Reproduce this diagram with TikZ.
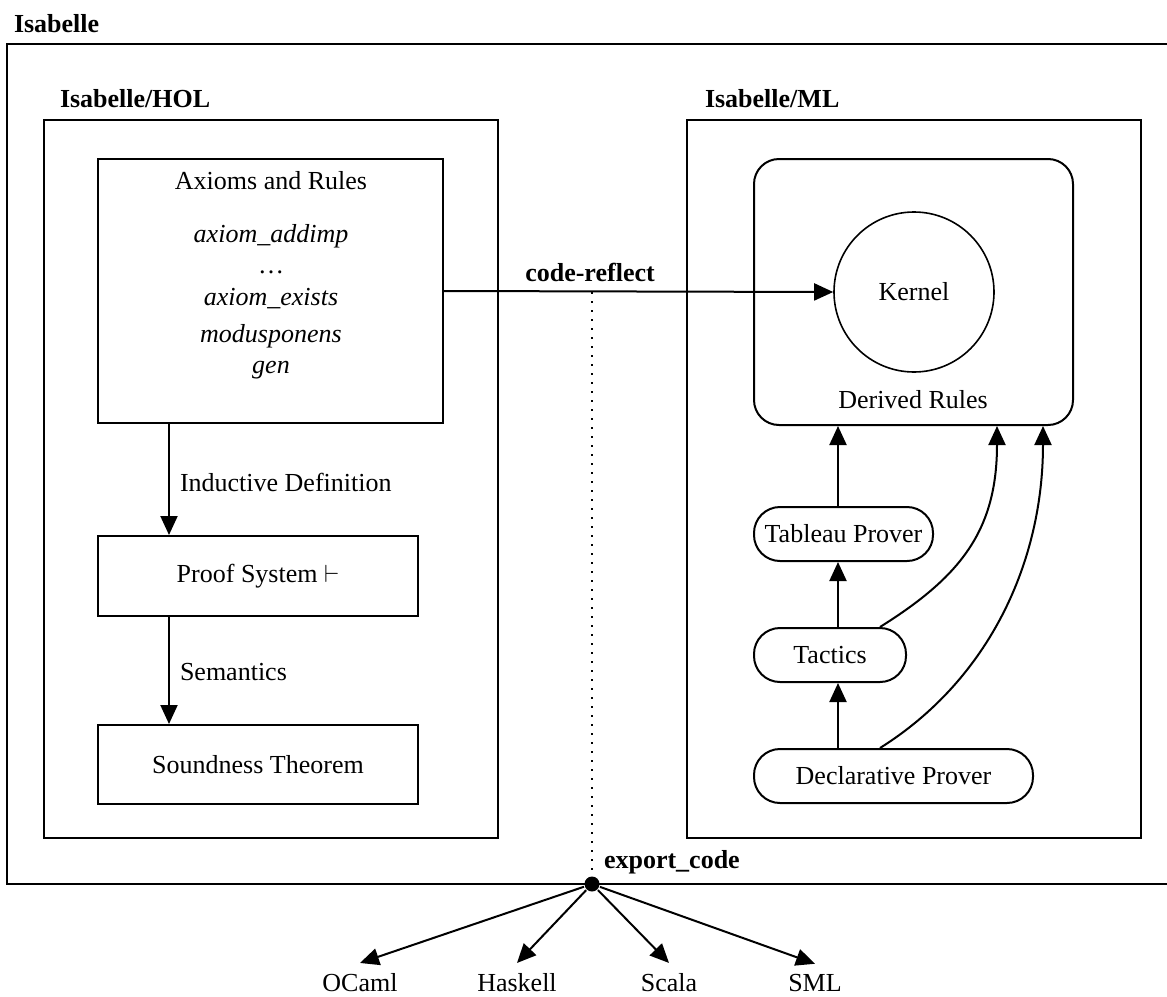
\documentclass[tikz,border=0pt]{standalone}
\usepackage{fontspec}
\setmainfont{Liberation Serif}
\usetikzlibrary{arrows.meta}
\begin{document}
\begin{tikzpicture}[x=1pt,y=-1pt,line width=2pt,
  every node/.style={font=\fontsize{26}{31}\selectfont},
  box/.style={draw,rectangle,inner sep=0},
  pill/.style={draw,rectangle,rounded corners=26pt,inner sep=0,minimum height=54pt},
  arr/.style={-{Triangle[length=19pt,width=17pt]}},
  ttl/.style={font=\fontsize{26}{31}\selectfont\bfseries,anchor=base west,inner sep=0},
  txt/.style={anchor=base,inner sep=0},
  lang/.style={anchor=base,inner xsep=0,inner ysep=9pt}]
\useasboundingbox (0,0) rectangle (1167,996);

% containers
\node[box,minimum width=1168.5pt,minimum height=840pt] (isabelle) at (590.75,464) {};
\node[ttl] (isabelleL) at (13,32) {Isabelle};
\node[box,minimum width=454pt,minimum height=718pt] (hol) at (271,479) {};
\node[ttl] (holL) at (59,107) {Isabelle/HOL};
\node[box,minimum width=454pt,minimum height=718pt] (ml) at (914,479) {};
\node[ttl] (mlL) at (704,107) {Isabelle/ML};

% HOL side
\node[box,minimum width=345pt,minimum height=264pt] (axioms) at (270.5,291) {};
\node[txt] (t1) at (271,189) {Axioms and Rules};
\node[txt] (t2) at (271,242) {\textit{axiom\_addimp}};
\node[txt] (t3) at (271,273) {\ldots};
\node[txt] (t4) at (271,305) {\textit{axiom\_exists}};
\node[txt] (t5) at (271,342) {\textit{modusponens}};
\node[txt] (t6) at (271,373) {\textit{gen}};

\node[box,minimum width=320pt,minimum height=80pt] (proof) at (258,576) {Proof System $\vdash$};
\node[box,minimum width=320pt,minimum height=79pt] (sound) at (258,764.5) {Soundness Theorem};

\draw[arr] ([xshift=-101.5pt]axioms.south) -- ([xshift=-89pt]proof.north);
\node[anchor=base west,inner sep=0] (indL) at (179,491) {Inductive Definition};
\draw[arr] ([xshift=-89pt]proof.south) -- ([xshift=-89pt]sound.north);
\node[anchor=base west,inner sep=0] (semL) at (179,680) {Semantics};

% ML side
\node[draw,rectangle,rounded corners=25pt,inner sep=0,minimum width=319pt,minimum height=266pt] (derived) at (913.5,292) {};
\node[draw,circle,inner sep=0,minimum size=160pt,line width=1.6pt] (kernel) at (914,292) {Kernel};
\node[txt] (derL) at (913,408) {Derived Rules};

\node[pill,minimum width=179pt] (tableau) at (843.5,534) {Tableau Prover};
\node[pill,minimum width=152pt] (tactics) at (830,655) {Tactics};
\node[pill,minimum width=279pt] (decl) at (893.5,776) {Declarative Prover};

\draw[arr] ([xshift=-5.5pt]tableau.north) -- ([xshift=-75.5pt]derived.south);
\draw[arr] ([xshift=8pt]tactics.north) -- ([xshift=-5.5pt]tableau.south);
\draw[arr] ([xshift=-55.5pt]decl.north) -- ([xshift=8pt]tactics.south);
\draw[arr] ([xshift=50pt]tactics.north) .. controls +(80,-50) and +(0,105) .. ([xshift=83.5pt]derived.south);
\draw[arr] ([xshift=-13.5pt]decl.north) .. controls +(110,-69) and +(0,135) .. ([xshift=129.5pt]derived.south);

% code-reflect
\draw[arr] (axioms.east) -- (kernel.west);
\node[txt,font=\fontsize{26}{31}\selectfont\bfseries] (crL) at (590,281) {code-reflect};
\coordinate (cr) at (592,292);

% export
\node[circle,fill,inner sep=0,minimum size=15pt] (dot) at (592,884) {};
\draw[dash pattern=on 2pt off 7pt] (cr) -- (dot.center);
\node[ttl] (exL) at (603,868) {export\_code};

\node[lang] (ocaml) at (360,991) {OCaml};
\node[lang] (haskell) at (517,991) {Haskell};
\node[lang] (scala) at (669,991) {Scala};
\node[lang] (sml) at (815,991) {SML};
\draw[arr] (dot) -- (ocaml.north);
\draw[arr] (dot) -- (haskell.north);
\draw[arr] (dot) -- (scala.north);
\draw[arr] (dot) -- (sml.north);
\end{tikzpicture}
\end{document}
